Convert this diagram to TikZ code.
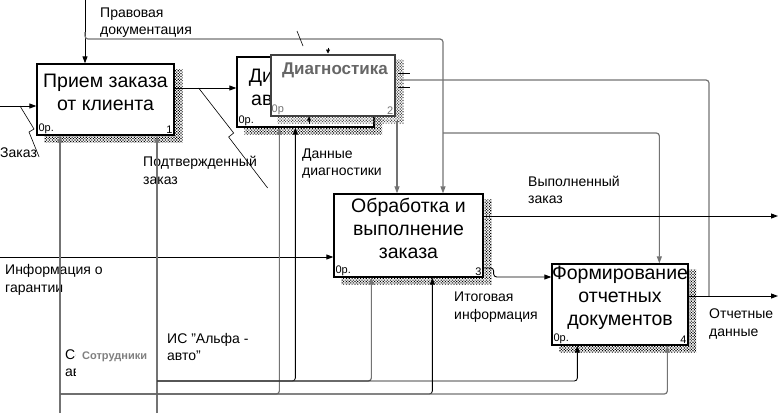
\documentclass[tikz,border=0pt]{standalone}
\usepackage{fontspec}
\setmainfont{Liberation Sans}
\usepackage{tikz}
\usetikzlibrary{arrows.meta}
\usetikzlibrary{calc,positioning,patterns.meta}

\tikzset{
  idef/.style={draw, line width=1.3pt, fill=white, inner sep=0pt},
  boxtext/.style={align=center, font=\fontsize{19.5}{23}\selectfont, inner sep=0pt},
  corner/.style={font=\fontsize{11}{12}\selectfont, inner sep=2pt},
  lbl/.style={align=left, font=\fontsize{14}{17.5}\selectfont, inner sep=0pt, anchor=west},
  arr/.style={-{Triangle[length=7pt,width=5pt]}, line width=0.9pt, rounded corners=3pt},
  arrg/.style={arr, draw=black!55, line width=1.2pt},
  tilde/.style={line width=0.6pt},
  hatch/.style={pattern={Dots[distance=2pt, radius=0.8pt, angle=45]}, pattern color=black},
}
\newcommand{\boxshade}[2][]{%
  \fill[hatch,#1] ([yshift=-6]#2.north east) -- ([xshift=8,yshift=-6]#2.north east)
    -- ([xshift=8,yshift=-7]#2.south east) -- ([xshift=8,yshift=-7]#2.south west)
    -- ([xshift=8]#2.south west) -- (#2.south east) -- cycle;}

\begin{document}
\begin{tikzpicture}[>=Stealth, x=1pt, y=-1pt]
    \useasboundingbox (0,0) rectangle (778,413);

    % functions
    \node[idef, minimum width=137, minimum height=71] (b1) at (105.5,99.5) {};
    \boxshade{b1}
    \node[boxtext] (b1t) at ([yshift=7]b1.center) {Прием заказа\\от клиента};
    \node[corner, anchor=south west] (b1a) at (b1.south west) {0р.};
    \node[corner, anchor=south east] (b1n) at (b1.south east) {1};

    \node[idef, minimum width=137, minimum height=70] (b2) at (305.5,92) {};
    \boxshade{b2}
    \node[boxtext] (b2t) at ([yshift=5]b2.center) {Диагностика\\автомобиля};
    \node[corner, anchor=south west] (b2a) at (b2.south west) {0р.};

    \node[idef, minimum width=149, minimum height=83] (b3) at (408.5,235.5) {};
    \boxshade{b3}
    \node[boxtext] (b3t) at ([yshift=7.5]b3.center) {Обработка и\\выполнение\\заказа};
    \node[corner, anchor=south west] (b3a) at (b3.south west) {0р.};
    \node[corner, anchor=south east] (b3n) at (b3.south east) {3};

    \node[idef, minimum width=136, minimum height=81] (b4) at (620,304.5) {};
    \boxshade{b4}
    \node[boxtext] (b4t) at ([yshift=7]b4.center) {Формирование\\отчетных\\документов};
    \node[corner, anchor=south west] (b4a) at (b4.south west) {0р.};
    \node[corner, anchor=south east] (b4n) at (b4.south east) {4};

    % dragged box over 2
    \node[draw=black!75, line width=2pt, fill=white, minimum width=124, minimum height=61] (ov) at (332.5,85) {};
    \boxshade[pattern color=black!70]{ov}
    \node[font=\bfseries\fontsize{17}{19}\selectfont, text=black!60, inner sep=0pt] (ovt) at ([xshift=2.5,yshift=15]ov.center) {Диагностика};
    \node[corner, text=black!55, anchor=south west] (ova) at (ov.south west) {0р};
    \node[corner, text=black!55, anchor=south east] (ovn) at (ov.south east) {2};
    \draw[-{Triangle[length=4pt,width=4pt]}, line width=0.8pt] ([xshift=-4.5,yshift=6]ov.north) -- (ov.north -| 328,0);
    \draw[-{Triangle[length=4pt,width=4pt]}, line width=0.8pt] ([xshift=-23.5,yshift=-7]ov.south) -- ([xshift=-23.5]ov.south);

    % labels
    \node[lbl] (lpravo) at (100,22.5) {Правовая\\документация};
    \node[lbl] (lzakaz) at (0,153) {Заказ};
    \node[lbl] (lpodtv) at (143,170.5) {Подтвержденный\\заказ};
    \node[lbl] (ldiag) at (302,163.5) {Данные\\диагностики};
    \node[lbl] (linfo) at (5,280) {Информация о\\гарантии};
    \node[lbl] (lvyp) at (528,190) {Выполненный\\заказ};
    \node[lbl] (litog) at (454,307) {Итоговая\\информация};
    \node[lbl] (lotch) at (709,324) {Отчетные\\данные};
    \node[lbl] (lis) at (167,347) {ИС "Альфа -\\авто"};
    \node[lbl] (lsotr) at (65,364.5) {Сотрудники\\автосервиса};
    \fill[white] (75.5,345) rectangle (155,383);
    \node[font=\bfseries\fontsize{11}{13}\selectfont, text=black!50, anchor=west, inner sep=0pt] (lsotr2) at (82,357) {Сотрудники};

    % inputs
    \coordinate (i1) at (0,106);
    \draw[arr] (i1) -- (i1 -| b1.west);
    \draw[tilde] ([xshift=20]i1) -- ++(14,23) -- ++(-5,3) -- ([xshift=2,yshift=-4]lzakaz.east);
    \coordinate (o1) at ([yshift=11.5]b1.east);
    \draw[arr] (o1) -- (o1 -| b2.west);
    \draw[tilde] ([xshift=24]o1) -- ++(35,45) -- ++(-5,4) -- ++(39,51);
    \coordinate (i3) at (0,257);
    \draw[arr] (i3) -- (i3 -| b3.west);

    % controls
    \coordinate (c1) at (85,0);
    \draw[arr] (c1) -- (c1 |- b1.north);
    \coordinate (jc) at (85,32);
    \coordinate (ctop) at (443,39);
    \draw[arrg] (jc) |- (ctop) -- (ctop |- b3.north);
    \draw[tilde] (297,31) -- (303,46);
    \coordinate (jc2) at (443,133);
    \draw[arrg] (jc2) -| ([xshift=108]b4.north west);
    \coordinate (o2) at (397,121);
    \draw[arrg] (o2) -- (o2 |- b3.north);

    % outputs
    \draw[line width=0.9pt] ([xshift=2,yshift=12]ov.east) -- ++(12,0);
    \draw[line width=0.9pt] ([xshift=2,yshift=-2]ov.east) -- ++(12,0);
    \coordinate (o3) at ([xshift=5,yshift=5]ov.east);
    \coordinate (jo) at (709,296);
    \draw[arrg, -] (o3) -| (jo);
    \coordinate (out4) at (778,296);
    \coordinate (o4) at ([yshift=8.5]b4.east);
    \draw[arr] (o4) -- (out4);
    \coordinate (o5) at ([yshift=19.5]b3.east);
    \draw[arr] (o5) -- (o5 -| out4);
    \coordinate (o6) at ([yshift=-32.5]b3.east);
    \draw[arr] (o6) -- ++(10,0) |- ([yshift=27.5]b4.west);

    % mechanisms
    \coordinate (m1) at (60,413);
    \coordinate (m2) at (157,413);
    \draw[arrg] (m1) -- (m1 |- b1.south);
    \draw[arrg] (m2) -- (m2 |- b1.south);
    \coordinate (j1) at (60,394);
    \coordinate (j2) at (157,381);
    \draw[arrg] (j1) -| ([xshift=43]b2.south west);
    \draw[arr] (j2) -| ([xshift=59]b2.south west);
    \draw[arrg] (j2) -| ([xshift=38]b3.south west);
    \draw[arr] (j1) -| ([xshift=99]b3.south west);
    \draw[arr] (j2) -| ([xshift=26]b4.south west);
    \draw[arrg] (j1) -| ([xshift=116]b4.south west);
\end{tikzpicture}
\end{document}
